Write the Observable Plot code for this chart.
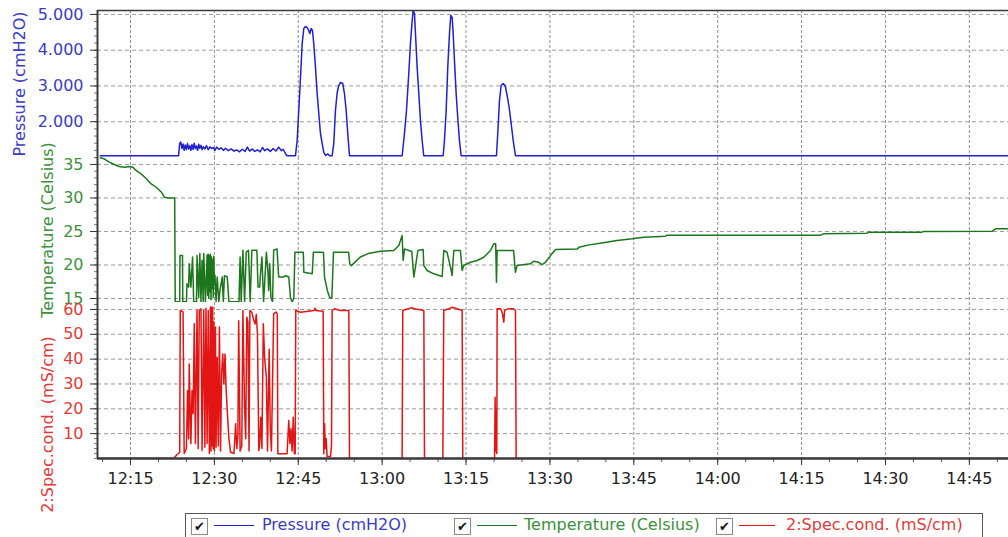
<!DOCTYPE html>
<html><head><meta charset="utf-8">
<script src="https://cdn.jsdelivr.net/npm/d3@7"></script>
<script src="https://cdn.jsdelivr.net/npm/@observablehq/plot@0.6"></script>
<style>
html,body{margin:0;padding:0;background:#fff;overflow:hidden;width:1008px;height:537px;}
#chart svg{display:block;}
.legend{position:relative;margin:5px 0 0 185px;width:796px;height:30px;border:1px solid #555;font-family:'DejaVu Sans',sans-serif;font-size:16px;background:#fff;}
.legend .cb{position:absolute;top:4px;width:15px;height:15px;border:1px solid #8a8a8a;background:#fff;font-size:13px;line-height:15px;text-align:center;color:#111;}
.legend .ln{position:absolute;top:11px;height:1px;}
.legend .tx{position:absolute;top:1px;line-height:20px;white-space:nowrap;}
</style></head>
<body><div id="chart"></div>
<script>
// ---- data (minutes after 12:00, value) ----
const timeTickLabels = ["12:15","12:30","12:45","13:00","13:15","13:30","13:45","14:00","14:15","14:30","14:45"];
const pressureTicks = [2000, 3000, 4000, 5000];
const temperatureTicks = [15, 20, 25, 30, 35];
const conductivityTicks = [10, 20, 30, 40, 50, 60];
const seriesNames = ["Pressure (cmH2O)", "Temperature (Celsius)", "2:Spec.cond. (mS/cm)"];

const pressure = [
[9.6,1050],[23.6,1050],[23.8,1400],[24.0,1430],[24.2,1250],[24.4,1380],[24.6,1200],[24.8,1350],[25.0,1220],[25.2,1390],[25.4,1240],[25.6,1330],[25.8,1200],[26.0,1360],[26.2,1230],[26.4,1400],[26.6,1250],[26.8,1320],[27.0,1200],[27.2,1370],[27.4,1260],[27.6,1340],[27.8,1220],[28.0,1300],[28.3,1240],[28.6,1330],[28.9,1220],[29.2,1300],[29.5,1250],[29.8,1280],[30.1,1200],[30.4,1290],[30.8,1230],[31.2,1270],[31.6,1200],[32.0,1260],[32.5,1190],[33.0,1240],[33.5,1180],[34.0,1210],[34.5,1160],[35.0,1230],[35.5,1170],[35.9,1290],[36.3,1180],[36.8,1240],[37.2,1170],[37.7,1210],[38.2,1160],[38.6,1280],[39.0,1190],[39.5,1240],[40.0,1170],[40.5,1250],[41.0,1180],[41.5,1290],[42.0,1190],[42.3,1230],[42.6,1140],[42.9,1060],[43.0,1050],
[44.5,1050],[44.8,1475],[45.09,2314],[45.4,3237],[45.7,4188],[45.99,4607],[46.29,4663],[46.59,4634],[46.88,4551],[47.06,4467],[47.31,4607],[47.54,4551],[47.77,4188],[48.08,3516],[48.38,2789],[48.67,2230],[48.97,1671],[49.28,1391],[49.56,1140],[49.87,1056],[50.3,1100],[50.6,1050],
[51.06,1050],[51.35,1391],[51.65,2314],[51.96,2817],[52.24,3013],[52.55,3097],[52.96,3069],[53.26,2789],[53.57,2314],[53.85,1671],[54.16,1050],
[63.58,1050],[63.99,1671],[64.35,2314],[64.76,3348],[65.06,4188],[65.37,4830],[65.54,5110],[65.78,5026],[65.96,4467],[66.26,3516],[66.55,2789],[66.85,2035],[67.15,1475],[67.44,1050],
[70.91,1050],[71.14,1475],[71.45,2314],[71.73,3516],[72.04,4467],[72.27,4970],[72.52,4914],[72.7,4467],[72.93,3712],[73.23,2789],[73.52,2118],[73.82,1475],[74.13,1050],
[80.44,1050],[80.67,1671],[80.98,2594],[81.28,3013],[81.64,3069],[81.99,3013],[82.35,2734],[82.71,2398],[83.07,1950],[83.43,1475],[83.84,1050],[172,1050]
];

const temperature = [
[9.6,36.0],[10.3,35.85],[11.2,35.34],[12.1,35.0],[13.0,34.7],[13.9,34.6],[14.8,34.7],[15.4,34.6],[16.0,34.1],[16.9,33.6],[17.8,32.9],[18.7,32.1],[19.6,31.6],[20.5,30.9],[21.1,30.1],[21.7,30.0],[22.9,30.0],[23.0,14.5],[23.8,14.5],[23.85,21.4],[24.3,21.4],[24.35,14.5],[25.0,14.5],[25.1,17.2],[25.4,16.7],[25.5,20.2],[25.8,16.7],[26.1,21.2],[26.3,14.5],[26.8,14.5],[26.9,21.4],[27.2,15.2],[27.4,21.7],[27.6,14.5],[27.8,20.7],[28.0,14.5],[28.1,21.7],[28.4,14.5],[28.7,21.5],[28.8,15.5],[28.9,21.6],[29.0,15.0],[29.1,21.4],[29.2,16.0],[29.3,21.6],[29.4,14.8],[29.5,21.2],[29.6,16.5],[29.7,20.8],[29.8,15.2],[29.9,21.3],[30.0,17.0],[30.1,18.5],[30.3,14.5],[30.5,18.2],[30.8,14.5],[31.0,16.2],[31.4,18.2],[31.6,14.5],[31.8,18.4],[32.3,18.2],[32.6,14.5],[34.4,14.5],[34.6,21.2],[34.8,14.5],[35.1,22.2],[35.4,14.5],[35.7,21.9],[36.1,22.2],[36.4,14.5],[36.7,22.2],[37.6,22.2],[37.8,16.7],[38.1,16.7],[38.2,18.2],[38.5,21.2],[38.8,14.5],[39.3,21.9],[39.6,18.7],[39.7,16.2],[39.9,20.2],[40.1,15.2],[40.4,14.5],[40.6,22.2],[41.2,22.4],[41.5,18.2],[42.4,18.2],[42.7,18.4],[43.3,18.2],[43.6,15.2],[43.9,14.5],[44.2,15.0],[44.4,21.9],[45.9,21.9],[46.0,18.9],[47.5,18.7],[47.7,21.9],[49.5,21.9],[49.7,18.2],[50.2,16.2],[50.6,15.2],[51.0,15.0],[51.3,21.9],[54.0,21.9],[54.2,20.2],[54.5,19.9],[56.1,21.2],[57.5,21.7],[59.7,22.06],[62.08,22.16],[62.98,22.9],[63.57,24.4],[63.75,20.7],[64.0,22.4],[64.77,22.16],[65.3,22.0],[65.66,18.2],[65.96,19.7],[66.38,22.16],[67.33,22.3],[67.45,19.92],[68.04,19.17],[69.24,18.68],[70.73,18.28],[71.02,22.16],[71.6,21.9],[72.22,19.67],[72.51,18.43],[72.81,22.16],[74.0,22.16],[74.3,19.17],[74.6,19.92],[75.8,20.4],[76.98,20.67],[78.18,21.16],[79.37,22.16],[79.96,23.15],[80.3,23.15],[80.44,17.43],[80.56,22.16],[83.5,22.16],[83.83,18.9],[84.13,19.92],[86.5,20.17],[87.1,20.56],[88.0,20.4],[88.6,20.07],[89.2,20.4],[90.1,21.4],[91.0,22.3],[94.9,22.4],[95.2,22.65],[97.0,23.0],[99.0,23.25],[102.0,23.65],[104.7,23.9],[106.8,24.15],[110.65,24.3],[110.95,24.45],[138.4,24.45],[138.96,24.65],[146.7,24.75],[147.0,24.9],[156.5,24.9],[156.8,25.0],[169.1,25.05],[169.7,25.4],[172,25.4]
];

const conductivity = [
[9.6,0],[22.7,0],[23.3,1.5],[23.8,2.5],[23.9,59.6],[24.4,59.0],[24.6,2.0],[25.0,4.0],[25.2,27.4],[25.4,8],[25.5,38.0],[25.8,6],[26.0,27.4],[26.2,18],[26.4,54.2],[26.6,6],[26.9,59.6],[27.1,4],[27.3,59.6],[27.6,60.3],[27.8,3.2],[28.1,59.6],[28.3,4.5],[28.5,60.5],[28.7,6],[28.9,59.6],[29.1,2],[29.3,61],[29.4,3],[29.5,60.9],[29.6,5],[29.7,61],[29.8,4],[29.9,55],[30.0,3],[30.2,52.9],[30.3,4.5],[30.5,40.8],[30.7,5],[30.9,52.9],[31.1,3],[31.3,34.1],[31.5,42.1],[31.7,30],[31.9,42.1],[32.1,28],[32.3,19.3],[32.6,8],[32.9,2.5],[33.5,2],[33.8,14],[34.0,4],[34.2,9],[34.35,55.5],[34.6,3],[34.9,5],[35.1,59.6],[35.4,20.6],[35.6,8],[35.8,56.9],[36.0,55],[36.2,3],[36.35,59.6],[36.7,58.9],[37.0,56],[37.3,54.2],[37.5,58],[37.7,50],[37.95,3.2],[38.1,6],[38.3,16.6],[38.5,4],[38.75,54.2],[39.0,40],[39.3,32.7],[39.5,3],[39.8,44],[40.0,11.3],[40.2,3],[40.6,58.2],[41.0,59],[41.25,58.2],[41.35,1.9],[43.0,1.9],[43.3,15.3],[43.5,6],[43.7,12],[43.9,3],[44.1,16.6],[44.3,2],[44.45,1.9],[44.55,59.6],[45.4,58.9],[47.8,59.6],[48.0,60.5],[48.1,59.6],[49.45,59.3],[49.57,1.9],[49.7,14.0],[49.85,4],[50.0,8],[50.16,0.8],[50.76,0.8],[50.94,5.2],[51.06,59.6],[51.5,60.25],[52.5,59.6],[54.04,59.6],[54.16,0],[63.57,0],[63.69,59.6],[64.5,60.2],[65.36,60.65],[66.0,60.2],[66.9,59.9],[67.45,59.6],[67.57,0],[70.85,0],[71.02,59.6],[71.9,60.25],[72.51,60.9],[73.4,60.25],[74.3,59.6],[74.42,0],[80.1,0],[80.2,24.7],[80.3,3],[80.4,20],[80.5,2],[80.56,60.25],[81.2,60.25],[81.5,58.5],[81.75,54.9],[81.9,59.6],[82.5,60.25],[83.5,60.25],[83.84,59.6],[83.96,0],[172,0]
];

// ---- helpers ----
const parseTime = d3.utcParse("%H:%M");
const BASE = parseTime("12:00").getTime();
const toTime = m => new Date(BASE + m * 60000);
const toRows = arr => arr.map(([m, v]) => ({t: toTime(m), v}));
const timeTicks = timeTickLabels.map(parseTime);
const xDomain = [toTime(9.1), toTime(172)];
const minorTimeTicks = d3.utcMinute.every(5).range(xDomain[0], xDomain[1]);
const fmtTime = d3.utcFormat("%H:%M");
const fmtPressure = d3.formatLocale({decimal: ",", thousands: ".", grouping: [3], currency: ["", ""]}).format(",");

const colors = {
  pLine: "#2020cc", pText: "#3b3bc2",
  tLine: "#1c761c", tText: "#3d8f3d",
  cLine: "#e31414", cText: "#e03a3a"
};
const gridStyle = {stroke: "#8f8f8f", strokeOpacity: 1, strokeDasharray: "3,2"};
const hGridStyle = {stroke: "#9a9a9a", strokeOpacity: 1, strokeDasharray: "4,3"};
const frameColor = "#3a3a3a";

const pDomain = [1000, 5110];
const tDomain = [14.4, 36.04];
const cDomain = [0, 62.8];

const style = {fontFamily: "'DejaVu Sans', sans-serif", fontSize: "16px", background: "white", overflow: "visible"};

function panel(opts) {
  return Plot.plot({
    width: 1008, marginLeft: 97, marginRight: 0,
    style,
    ...opts
  });
}

const minor = (dom, step) => d3.range(Math.ceil(dom[0] / step) * step, dom[1], step);

const p1 = panel({
  height: 157, marginTop: 10, marginBottom: 0,
  x: {type: "utc", domain: xDomain, axis: null},
  y: {domain: pDomain},
  marks: [
    Plot.gridX(timeTicks, gridStyle),
    Plot.gridY(pressureTicks, hGridStyle),
    Plot.axisY(minor(pDomain, 200), {tickSize: 3, stroke: "#777", tickFormat: () => "", label: null}),
    Plot.axisY(pressureTicks, {tickSize: 7, tickPadding: 7, stroke: "#333", fill: colors.pText, tickFormat: fmtPressure,
      label: seriesNames[0], labelAnchor: "center", labelOffset: 84, labelArrow: "none"}),
    Plot.line(toRows(pressure), {x: "t", y: "v", stroke: colors.pLine, strokeWidth: 1.5, clip: true}),
    Plot.ruleX([xDomain[0]], {stroke: frameColor, strokeWidth: 2}),
    Plot.ruleY([pDomain[1]], {stroke: frameColor, strokeWidth: 1.5})
  ]
});

const p2 = panel({
  height: 145, marginTop: 0, marginBottom: 0,
  x: {type: "utc", domain: xDomain, axis: null},
  y: {domain: tDomain},
  marks: [
    Plot.gridX(timeTicks, gridStyle),
    Plot.gridY(temperatureTicks, hGridStyle),
    Plot.axisY(minor(tDomain, 1), {tickSize: 3, stroke: "#777", tickFormat: () => "", label: null}),
    Plot.axisY(temperatureTicks, {tickSize: 7, tickPadding: 7, stroke: "#333", fill: colors.tText,
      label: seriesNames[1], labelAnchor: "center", labelOffset: 56, labelArrow: "none"}),
    Plot.line(toRows(temperature), {x: "t", y: "v", stroke: colors.tLine, strokeWidth: 1.5, clip: true}),
    Plot.ruleX([xDomain[0]], {stroke: frameColor, strokeWidth: 2})
  ]
});

const p3 = panel({
  height: 206, marginTop: 0, marginBottom: 50,
  x: {type: "utc", domain: xDomain},
  y: {domain: cDomain},
  marks: [
    Plot.gridX(timeTicks, gridStyle),
    Plot.gridY(conductivityTicks, hGridStyle),
    Plot.axisY(minor(cDomain, 2), {tickSize: 3, stroke: "#777", tickFormat: () => "", label: null}),
    Plot.axisY(conductivityTicks, {tickSize: 7, tickPadding: 7, stroke: "#333", fill: colors.cText, label: null}),
    Plot.text([seriesNames[2]], {text: d => d, frameAnchor: "left", rotate: -90, textAnchor: "middle", lineAnchor: "top",
      dx: -56, dy: 44, fill: colors.cText}),
    Plot.axisX(minorTimeTicks, {tickSize: 4, stroke: "#555", tickFormat: () => "", label: null}),
    Plot.axisX(timeTicks, {tickSize: 7, tickPadding: 7, stroke: "#333", fill: "#222", tickFormat: fmtTime, label: null}),
    Plot.line(toRows(conductivity), {x: "t", y: "v", stroke: colors.cLine, strokeWidth: 1.5, clip: true}),
    Plot.ruleX([xDomain[0]], {stroke: frameColor, strokeWidth: 2}),
    Plot.ruleY([cDomain[0]], {stroke: frameColor, strokeWidth: 2.5})
  ]
});

const chart = document.getElementById("chart");
chart.append(p1, p2, p3);

// ---- legend ----
const legend = document.createElement("div");
legend.className = "legend";
const legendItems = [
  {name: seriesNames[0], line: colors.pLine, text: colors.pText, cb: 5, ln: 28, lw: 40, tx: 76},
  {name: seriesNames[1], line: colors.tLine, text: colors.tText, cb: 268, ln: 291, lw: 40, tx: 338},
  {name: seriesNames[2], line: colors.cLine, text: colors.cText, cb: 530, ln: 553, lw: 36, tx: 600}
];
for (const it of legendItems) {
  const cb = document.createElement("span");
  cb.className = "cb"; cb.style.left = it.cb + "px"; cb.textContent = "\u2714";
  const ln = document.createElement("span");
  ln.className = "ln"; ln.style.left = it.ln + "px"; ln.style.width = it.lw + "px"; ln.style.background = it.line;
  const tx = document.createElement("span");
  tx.className = "tx"; tx.style.left = it.tx + "px"; tx.style.color = it.text; tx.textContent = it.name;
  legend.append(cb, ln, tx);
}
chart.append(legend);
</script>
</body></html>
